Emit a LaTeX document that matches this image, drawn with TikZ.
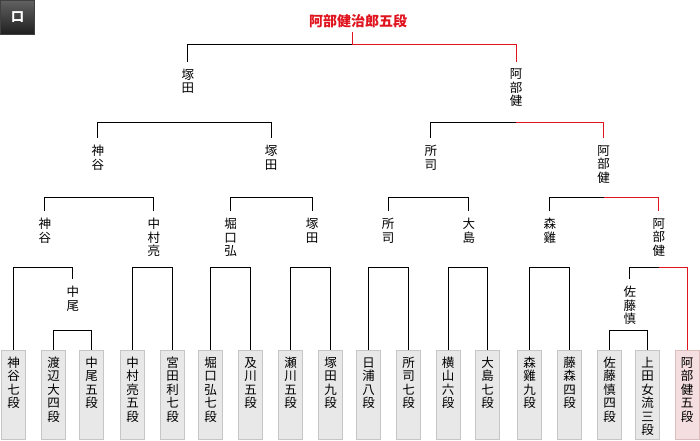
\documentclass[tikz,border=0pt]{standalone}
\usepackage{fontspec}
\setmainfont{Noto Sans CJK JP}
\usetikzlibrary{
    positioning     % not really needed, bracket is placed by hand
}

\definecolor{leaffill}{HTML}{E8E8E8}
\definecolor{leafline}{HTML}{C6C6C6}
\definecolor{winfill}{HTML}{F4DEDF}
\definecolor{winline}{HTML}{DCBDBE}
\definecolor{winred}{HTML}{E0141E}

\begin{document}
\begin{tikzpicture}[
    x=1pt, y=-1pt,
    link/.style={draw=black, line width=1pt},
    winlink/.style={draw=winred, line width=1pt},
    leaf/.style={rectangle, draw=leafline, fill=leaffill, anchor=north, text width=24pt, align=center,
                 inner xsep=0pt, inner ysep=7pt, text height=10pt, text depth=65pt,
                 font=\fontsize{12.5}{13.5}\selectfont},
    winleaf/.style={leaf, draw=winline, fill=winfill},
    player/.style={anchor=north, align=center, inner xsep=1pt, inner ysep=7pt, font=\fontsize{12.5}{13.5}\selectfont},
    champ/.style={text=winred, inner ysep=4pt, font=\fontsize{14}{16}\selectfont\bfseries},
    icon/.style={rectangle, minimum size=34pt, inner sep=0pt, draw=black!75, top color=black!62, bottom color=black!88,
                 text=white, font=\fontsize{13}{13}\selectfont\bfseries}
]
    \useasboundingbox (0,0) rectangle (700,440);

    % Tab icon
    \node[icon] (tab) at (17.5,17.5) {口};

    % Bracket levels
    \coordinate (lvA) at (0,330.5);
    \coordinate (lvB) at (0,267.5);
    \coordinate (lvC) at (0,197.5);
    \coordinate (lvD) at (0,122.5);
    \coordinate (lvE) at (352.5,44.5);

    % Players
    \node[leaf] (kamiya)    at (13.5,350)  {神\\谷\\七\\段};
    \node[leaf] (watanabe)  at (53.5,350)  {渡\\辺\\大\\四\\段};
    \node[leaf] (nakao)     at (91.5,350)  {中\\尾\\五\\段};
    \node[leaf] (nakamura)  at (132.5,350) {中\\村\\亮\\五\\段};
    \node[leaf] (miyata)    at (172.5,350) {宮\\田\\利\\七\\段};
    \node[leaf] (horiguchi) at (210.5,350) {堀\\口\\弘\\七\\段};
    \node[leaf] (oikawa)    at (250.5,350) {及\\川\\五\\段};
    \node[leaf] (segawa)    at (290.5,350) {瀬\\川\\五\\段};
    \node[leaf] (tsukada)   at (330.5,350) {塚\\田\\九\\段};
    \node[leaf] (hiura)     at (368.5,350) {日\\浦\\八\\段};
    \node[leaf] (shoji)     at (408.5,350) {所\\司\\七\\段};
    \node[leaf] (yokoyama)  at (448,350)   {横\\山\\六\\段};
    \node[leaf] (oshima)    at (487.5,350) {大\\島\\七\\段};
    \node[leaf] (mori)      at (529.5,350) {森\\雞\\九\\段};
    \node[leaf] (fujimori)  at (569.5,350) {藤\\森\\四\\段};
    \node[leaf] (sato)      at (609.5,350) {佐\\藤\\慎\\四\\段};
    \node[leaf] (ueda)      at (647.5,350) {上\\田\\女\\流\\三\\段};
    \node[winleaf] (abe)    at (687,350)   {阿\\部\\健\\五\\段};

    % Round 1
    \node[player] (nakaoA) at (72.8,279)  {中\\尾};
    \node[player] (satoA)  at (629.8,279) {佐\\藤\\慎};
    \draw[link] (watanabe.north) |- (nakaoA.north |- lvA) -| (nakao.north);
    \draw[link] (sato.north) |- (satoA.north |- lvA) -| (ueda.north);

    % Round 2
    \node[player] (kamiyaB)    at (44.8,211)  {神\\谷};
    \node[player] (nakamuraB)  at (153.8,211) {中\\村\\亮};
    \node[player] (horiguchiB) at (230.5,211) {堀\\口\\弘};
    \node[player] (tsukadaB)   at (312,211)   {塚\\田};
    \node[player] (shojiB)     at (388,211)   {所\\司};
    \node[player] (oshimaB)    at (468.8,211) {大\\島};
    \node[player] (moriB)      at (549.8,211) {森\\雞};
    \node[player] (abeB)       at (658.8,211) {阿\\部\\健};
    \draw[link] (kamiya.north) |- (kamiyaB.north |- lvB) -| (nakaoA.north);
    \draw[link] (nakamura.north) |- (nakamuraB.north |- lvB) -| (miyata.north);
    \draw[link] (horiguchi.north) |- (horiguchiB.north |- lvB) -| (oikawa.north);
    \draw[link] (segawa.north) |- (tsukadaB.north |- lvB) -| (tsukada.north);
    \draw[link] (hiura.north) |- (shojiB.north |- lvB) -| (shoji.north);
    \draw[link] (yokoyama.north) |- (oshimaB.north |- lvB) -| (oshima.north);
    \draw[link] (mori.north) |- (moriB.north |- lvB) -| (fujimori.north);
    \draw[link] (satoA.north) |- (abeB.north |- lvB);
    \draw[winlink] (abeB.north |- lvB) -| (abe.north);

    % Round 3
    \node[player] (kamiyaC)  at (97.8,138)  {神\\谷};
    \node[player] (tsukadaC) at (271,138)   {塚\\田};
    \node[player] (shojiC)   at (430.8,138) {所\\司};
    \node[player] (abeC)     at (603.7,138) {阿\\部\\健};
    \draw[link] (kamiyaB.north) |- (kamiyaC.north |- lvC) -| (nakamuraB.north);
    \draw[link] (horiguchiB.north) |- (tsukadaC.north |- lvC) -| (tsukadaB.north);
    \draw[link] (shojiB.north) |- (shojiC.north |- lvC) -| (oshimaB.north);
    \draw[link] (moriB.north) |- (abeC.north |- lvC);
    \draw[winlink] (abeC.north |- lvC) -| (abeB.north);

    % Semi-finals
    \node[player] (tsukadaD) at (187.8,61.5) {塚\\田};
    \node[player] (abeD)     at (516,61.5)   {阿\\部\\健};
    \draw[link] (kamiyaC.north) |- (tsukadaD.north |- lvD) -| (tsukadaC.north);
    \draw[link] (shojiC.north) |- (abeD.north |- lvD);
    \draw[winlink] (abeD.north |- lvD) -| (abeC.north);

    % Final
    \node[champ] (winner) at (358,21.5) {阿部健治郎五段};
    \draw[link] (tsukadaD.north) |- (lvE);
    \draw[winlink] (lvE) -| (abeD.north);
    \draw[winlink] (lvE) -- (lvE |- winner.south);

\end{tikzpicture}
\end{document}
